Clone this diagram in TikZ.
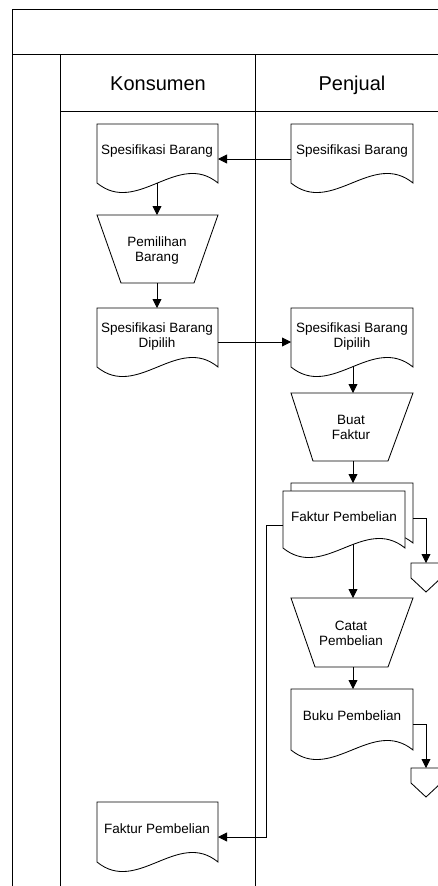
\documentclass[tikz,border=0pt]{standalone}
\usepackage{fontspec}
\setmainfont{Liberation Sans}
\usetikzlibrary{arrows.meta}
\newcommand{\docpath}[4]{% L, T, R, B (side bottom)
  (#1,#2) -- (#1,#4) .. controls ({#1+(#3-#1)/3},{#4+33}) and ({#1+2*(#3-#1)/3},{#4-33}) .. (#3,#4) -- (#3,#2) -- cycle}
\newcommand{\trappath}[6]{% topL, topR, T, botL, botR, B
  (#1,#3) -- (#2,#3) -- (#5,#6) -- (#4,#6) -- cycle}
\newcommand{\offpath}[3]{% cx, top, tip
  ({#1-15},#2) -- ({#1+15},#2) -- ({#1+15},{#3-14}) -- (#1,#3) -- ({#1-15},{#3-14}) -- cycle}
\begin{document}
\begin{tikzpicture}[x=1pt,y=-1pt,
  frame/.style={line width=1pt, draw=black},
  shp/.style={line width=0.85pt, draw=black, fill=white},
  conn/.style={line width=0.85pt, draw=black},
  arr/.style={conn,-{Triangle[length=9pt,width=9pt]}},
  lbl/.style={font=\fontsize{13.5}{15}\selectfont, align=center, inner sep=0pt, anchor=base},
  hdr/.style={font=\fontsize{20}{24}\selectfont, inner sep=0pt, anchor=base}]
\useasboundingbox (0,0) rectangle (438,886);
\clip (0,0) rectangle (438,886);
\fill[white] (0,0) rectangle (438,886);
% frame
\draw[frame] (445,9) -- (12,9) -- (12,890);
\draw[frame] (12,54) -- (445,54);
\draw[frame] (60,54) -- (60,890);
\draw[frame] (255,54) -- (255,890);
\draw[frame] (60,111) -- (445,111);
\node[hdr] (hk) at (158,90) {Konsumen};
\node[hdr] (hp) at (352,90) {Penjual};
% Konsumen shapes
\draw[shp] \docpath{97}{124}{218}{183};
\node[lbl] (k1) at (157,154) {Spesifikasi Barang};
\draw[shp] \trappath{97}{218}{215}{121}{194}{283};
\node[lbl] (k2) at (157,261) {Pemilihan\\Barang};
\draw[shp] \docpath{97}{308}{218}{367};
\node[lbl] (k3) at (157,347) {Spesifikasi Barang\\Dipilih};
\draw[shp] \docpath{97}{802}{218}{862};
\node[lbl] (k4) at (157,833) {Faktur Pembelian};
% Penjual shapes
\draw[shp] \docpath{291}{124}{413}{183};
\node[lbl] (p1) at (352,154) {Spesifikasi Barang};
\draw[shp] \docpath{291}{308}{413}{367};
\node[lbl] (p2) at (352,347) {Spesifikasi Barang\\Dipilih};
\draw[shp] \trappath{291}{413}{393}{313}{388}{461};
\node[lbl] (p3) at (351,439) {Buat\\Faktur};
\draw[shp] \docpath{291}{483}{413}{543};
\draw[shp] \docpath{283}{491}{405}{548};
\node[lbl] (p4) at (344,521) {Faktur Pembelian};
\draw[shp] \trappath{291}{413}{598}{315}{388}{667};
\node[lbl] (p5) at (351,645) {Catat\\Pembelian};
\draw[shp] \docpath{291}{689}{413}{750};
\node[lbl] (p6) at (352,720) {Buku Pembelian};
\draw[shp] \offpath{426}{563}{592};
\draw[shp] \offpath{426}{768}{797};
% connector points
\coordinate (k1r) at (218,159);
\coordinate (p1l) at (291,159);
\coordinate (k1b) at (157,183);
\coordinate (k2t) at (157,215);
\coordinate (k2b) at (157,283);
\coordinate (k3t) at (157,308);
\coordinate (k3r) at (218,342);
\coordinate (p2l) at (291,342);
\coordinate (p2b) at (353,367);
\coordinate (p3t) at (353,393);
\coordinate (p3b) at (353,461);
\coordinate (p4t) at (353,483);
\coordinate (p4l) at (283,525);
\coordinate (k4r) at (218,837);
\coordinate (p4r) at (413,518);
\coordinate (o1t) at (426,563);
\coordinate (p4b) at (353,544);
\coordinate (p5t) at (353,598);
\coordinate (p5b) at (353,667);
\coordinate (p6t) at (353,689);
\coordinate (p6r) at (413,724);
\coordinate (o2t) at (426,768);
% connectors
\draw[arr] (p1l) -- (k1r);
\draw[arr] (k1b) -- (k2t);
\draw[arr] (k2b) -- (k3t);
\draw[arr] (k3r) -- (p2l);
\draw[arr] (p2b) -- (p3t);
\draw[arr] (p3b) -- (p4t);
\draw[arr] (p4l) -- (266,525) -- (266,837) -- (k4r);
\draw[arr] (p4r) -- (426,518) -- (o1t);
\draw[arr] (p4b) -- (p5t);
\draw[arr] (p5b) -- (p6t);
\draw[arr] (p6r) -- (426,724) -- (o2t);
\end{tikzpicture}
\end{document}
